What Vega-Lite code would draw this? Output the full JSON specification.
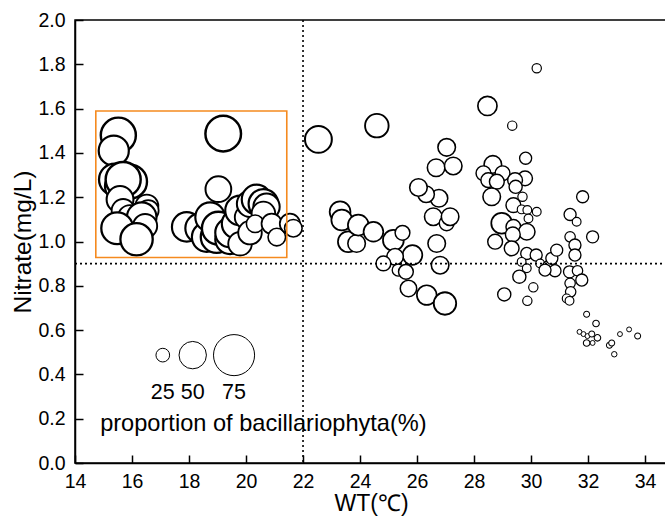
{
  "$schema": "https://vega.github.io/schema/vega-lite/v6.json",
  "width": 592,
  "height": 443,
  "autosize": {"type": "none"},
  "padding": {"left": 75, "top": 20, "right": 0, "bottom": 56},
  "background": "white",
  "config": {
    "view": {"stroke": "black", "strokeWidth": 1.5},
    "font": "Liberation Sans",
    "axis": {"grid": false, "domainColor": "black", "domainWidth": 1.5, "tickColor": "black", "tickWidth": 1.5, "labelColor": "black", "titleColor": "black", "labelFont": "Liberation Sans", "titleFont": "Liberation Sans", "labelFontSize": 19.5, "titleFontSize": 23.5, "titleFontWeight": "normal", "labelFlush": false, "labelOverlap": false}
  },
  "datasets": {
    "pts": [
      {"WT":15.52,"N":1.48,"p":64},{"WT":15.36,"N":1.41,"p":55},{"WT":15.40,"N":1.28,"p":58},{"WT":15.58,"N":1.25,"p":55},
      {"WT":15.93,"N":1.27,"p":62},{"WT":15.69,"N":1.28,"p":64},{"WT":15.58,"N":1.19,"p":49},{"WT":15.69,"N":1.14,"p":42},
      {"WT":15.93,"N":1.11,"p":44},{"WT":16.52,"N":1.16,"p":42},{"WT":16.57,"N":1.14,"p":38},{"WT":16.34,"N":1.11,"p":54},
      {"WT":16.46,"N":1.07,"p":44},{"WT":15.48,"N":1.06,"p":58},{"WT":16.16,"N":1.01,"p":59},
      {"WT":19.20,"N":1.487,"p":65},{"WT":19.03,"N":1.236,"p":47},{"WT":17.92,"N":1.066,"p":54},{"WT":18.39,"N":1.06,"p":54},
      {"WT":18.62,"N":1.02,"p":54},{"WT":18.74,"N":1.11,"p":54},{"WT":18.97,"N":1.02,"p":58},{"WT":19.03,"N":1.06,"p":60},
      {"WT":19.44,"N":1.01,"p":54},{"WT":19.44,"N":1.04,"p":54},{"WT":19.67,"N":1.08,"p":54},{"WT":19.79,"N":1.14,"p":54},
      {"WT":19.79,"N":0.99,"p":43},{"WT":20.02,"N":1.11,"p":43},{"WT":20.14,"N":1.17,"p":48},{"WT":20.37,"N":1.19,"p":54},
      {"WT":20.61,"N":1.17,"p":54},{"WT":20.72,"N":1.157,"p":48},{"WT":20.61,"N":1.127,"p":43},{"WT":20.14,"N":1.04,"p":43},
      {"WT":20.32,"N":1.08,"p":32},{"WT":20.90,"N":1.08,"p":37},{"WT":21.08,"N":1.02,"p":32},{"WT":21.54,"N":1.08,"p":37},
      {"WT":21.66,"N":1.06,"p":32},
      {"WT":22.54,"N":1.461,"p":49},{"WT":24.59,"N":1.523,"p":43},{"WT":23.30,"N":1.134,"p":38},{"WT":23.36,"N":1.097,"p":38},
      {"WT":23.59,"N":0.999,"p":38},{"WT":23.88,"N":0.991,"p":32},{"WT":23.94,"N":1.074,"p":38},{"WT":24.47,"N":1.044,"p":36},
      {"WT":25.17,"N":1.006,"p":38},{"WT":25.49,"N":1.039,"p":27},{"WT":25.84,"N":0.939,"p":36},{"WT":25.23,"N":0.931,"p":30},
      {"WT":24.82,"N":0.901,"p":27},{"WT":25.34,"N":0.871,"p":22},{"WT":25.61,"N":0.863,"p":27},{"WT":25.70,"N":0.788,"p":30},
      {"WT":26.34,"N":0.758,"p":36},{"WT":26.98,"N":0.720,"p":41},{"WT":26.81,"N":0.893,"p":32},{"WT":26.69,"N":0.991,"p":32},
      {"WT":26.57,"N":1.112,"p":32},{"WT":27.04,"N":1.082,"p":27},{"WT":27.16,"N":1.112,"p":32},{"WT":26.77,"N":1.195,"p":32},
      {"WT":26.32,"N":1.213,"p":30},{"WT":26.05,"N":1.244,"p":32},{"WT":26.67,"N":1.333,"p":32},{"WT":27.27,"N":1.341,"p":32},
      {"WT":27.04,"N":1.425,"p":32},
      {"WT":30.20,"N":1.782,"p":17},{"WT":28.47,"N":1.612,"p":35},{"WT":29.34,"N":1.523,"p":17},{"WT":29.81,"N":1.376,"p":22},
      {"WT":28.66,"N":1.348,"p":32},{"WT":28.33,"N":1.308,"p":27},{"WT":29.00,"N":1.308,"p":27},{"WT":28.50,"N":1.277,"p":27},
      {"WT":28.80,"N":1.270,"p":27},{"WT":29.79,"N":1.285,"p":27},{"WT":29.44,"N":1.277,"p":27},{"WT":29.46,"N":1.247,"p":24},
      {"WT":28.62,"N":1.202,"p":32},{"WT":29.70,"N":1.202,"p":17},{"WT":29.38,"N":1.164,"p":27},{"WT":29.67,"N":1.145,"p":16},
      {"WT":29.87,"N":1.142,"p":16},{"WT":30.20,"N":1.134,"p":16},{"WT":29.91,"N":1.104,"p":16},{"WT":28.97,"N":1.082,"p":38},
      {"WT":29.38,"N":1.066,"p":27},{"WT":29.85,"N":1.044,"p":30},{"WT":29.36,"N":1.032,"p":27},{"WT":28.74,"N":0.999,"p":27},
      {"WT":29.32,"N":0.969,"p":27},{"WT":29.85,"N":0.946,"p":22},{"WT":30.18,"N":0.939,"p":22},{"WT":29.67,"N":0.908,"p":16},
      {"WT":30.32,"N":0.901,"p":16},{"WT":30.61,"N":0.886,"p":22},{"WT":30.73,"N":0.924,"p":22},{"WT":30.90,"N":0.961,"p":22},
      {"WT":30.84,"N":0.868,"p":22},{"WT":30.49,"N":0.871,"p":22},{"WT":29.85,"N":0.879,"p":16},{"WT":29.59,"N":0.841,"p":24},
      {"WT":30.08,"N":0.793,"p":17},{"WT":29.87,"N":0.732,"p":17},{"WT":29.06,"N":0.761,"p":24},
      {"WT":31.37,"N":1.122,"p":22},{"WT":31.60,"N":1.089,"p":16},{"WT":31.81,"N":1.202,"p":22},{"WT":32.16,"N":1.021,"p":22},
      {"WT":31.37,"N":1.021,"p":19},{"WT":31.54,"N":0.984,"p":22},{"WT":31.54,"N":0.939,"p":22},{"WT":31.35,"N":0.863,"p":22},
      {"WT":31.63,"N":0.868,"p":19},{"WT":31.78,"N":0.826,"p":22},{"WT":31.37,"N":0.811,"p":19},{"WT":31.39,"N":0.773,"p":19},
      {"WT":31.25,"N":0.743,"p":16},{"WT":31.35,"N":0.732,"p":16},{"WT":31.95,"N":0.672,"p":11},{"WT":32.28,"N":0.630,"p":12},
      {"WT":31.70,"N":0.592,"p":9},{"WT":31.84,"N":0.582,"p":9},{"WT":31.98,"N":0.573,"p":9},{"WT":32.13,"N":0.582,"p":11},
      {"WT":32.33,"N":0.565,"p":12},{"WT":31.95,"N":0.542,"p":12},{"WT":32.16,"N":0.542,"p":9},{"WT":32.75,"N":0.532,"p":11},
      {"WT":32.83,"N":0.542,"p":11},{"WT":32.92,"N":0.491,"p":10},{"WT":33.12,"N":0.582,"p":9},{"WT":33.44,"N":0.603,"p":9},
      {"WT":33.74,"N":0.573,"p":11}
    ],
    "legendPts": [
      {"WT":17.08,"N":0.487,"p":25},{"WT":18.13,"N":0.487,"p":50},{"WT":19.58,"N":0.487,"p":75}
    ],
    "legendLabels": [
      {"WT":17.08,"N":0.315,"t":"25"},{"WT":18.13,"N":0.315,"t":"50"},{"WT":19.58,"N":0.315,"t":"75"}
    ],
    "legendTitle": [{"WT":20.61,"N":0.175,"t":"proportion of bacillariophyta(%)"}],
    "vline": [{"WT":22}],
    "hline": [{"N":0.9}],
    "box": [{"WT":14.73,"WT2":21.43,"N":0.928,"N2":1.589}]
  },
  "layer": [
    {
      "data": {"name": "pts"},
      "mark": {"type": "circle", "fill": "white", "stroke": "black", "fillOpacity": 1, "strokeOpacity": 1, "opacity": 1},
      "encoding": {
        "x": {"field": "WT", "type": "quantitative", "title": "WT(℃)",
          "scale": {"domain": [14, 34.77], "nice": false, "zero": false},
          "axis": {"values": [14,15,16,17,18,19,20,21,22,23,24,25,26,27,28,29,30,31,32,33,34],
            "labelExpr": "datum.value % 2 === 0 ? datum.label : ''", "format": "d",
            "tickSize": {"condition": {"test": "datum.value % 2 !== 0", "value": -4}, "value": -8},
            "labelPadding": 17, "titlePadding": 2, "titleFontSize": 23}},
        "y": {"field": "N", "type": "quantitative", "title": "Nitrate(mg/L)",
          "scale": {"domain": [0, 2], "nice": false, "zero": false},
          "axis": {"values": [0,0.1,0.2,0.3,0.4,0.5,0.6,0.7,0.8,0.9,1.0,1.1,1.2,1.3,1.4,1.5,1.6,1.7,1.8,1.9,2.0],
            "labelExpr": "round(datum.value*10) % 2 === 0 ? format(datum.value, '.1f') : ''",
            "tickSize": {"condition": {"test": "round(datum.value*10) % 2 !== 0", "value": -4}, "value": -8},
            "labelPadding": 18, "titlePadding": 2, "titleFontSize": 24.5}},
        "size": {"field": "p", "type": "quantitative", "scale": {"type": "pow", "exponent": 2, "domain": [0, 100], "range": [0, 3000]}, "legend": null},
        "strokeWidth": {"field": "p", "type": "quantitative", "scale": {"domain": [10, 70], "range": [1, 2.6]}, "legend": null}
      }
    },
    {
      "data": {"name": "vline"},
      "mark": {"type": "rule", "color": "black", "strokeWidth": 1.6, "strokeDash": [2, 3]},
      "encoding": {"x": {"field": "WT", "type": "quantitative", "title": "WT(℃)"}}
    },
    {
      "data": {"name": "hline"},
      "mark": {"type": "rule", "color": "black", "strokeWidth": 1.6, "strokeDash": [2, 3]},
      "encoding": {"y": {"field": "N", "type": "quantitative", "title": "Nitrate(mg/L)"}}
    },
    {
      "data": {"name": "box"},
      "mark": {"type": "rect", "fill": null, "fillOpacity": 0, "stroke": "#f58a1f", "strokeWidth": 1.6},
      "encoding": {
        "x": {"field": "WT", "type": "quantitative", "title": "WT(℃)"}, "x2": {"field": "WT2"},
        "y": {"field": "N", "type": "quantitative", "title": "Nitrate(mg/L)"}, "y2": {"field": "N2"}
      }
    },
    {
      "data": {"name": "legendPts"},
      "mark": {"type": "circle", "fill": "white", "stroke": "black", "strokeWidth": 1, "fillOpacity": 1, "opacity": 1},
      "encoding": {
        "x": {"field": "WT", "type": "quantitative", "title": "WT(℃)"},
        "y": {"field": "N", "type": "quantitative", "title": "Nitrate(mg/L)"},
        "size": {"field": "p", "type": "quantitative", "legend": null}
      }
    },
    {
      "data": {"name": "legendLabels"},
      "mark": {"type": "text", "fontSize": 21.5, "font": "Liberation Sans", "color": "black", "align": "center", "baseline": "middle"},
      "encoding": {
        "x": {"field": "WT", "type": "quantitative", "title": "WT(℃)"},
        "y": {"field": "N", "type": "quantitative", "title": "Nitrate(mg/L)"},
        "text": {"field": "t"}
      }
    },
    {
      "data": {"name": "legendTitle"},
      "mark": {"type": "text", "fontSize": 23.6, "font": "Liberation Sans", "color": "black", "align": "center", "baseline": "middle"},
      "encoding": {
        "x": {"field": "WT", "type": "quantitative", "title": "WT(℃)"},
        "y": {"field": "N", "type": "quantitative", "title": "Nitrate(mg/L)"},
        "text": {"field": "t"}
      }
    }
  ]
}
